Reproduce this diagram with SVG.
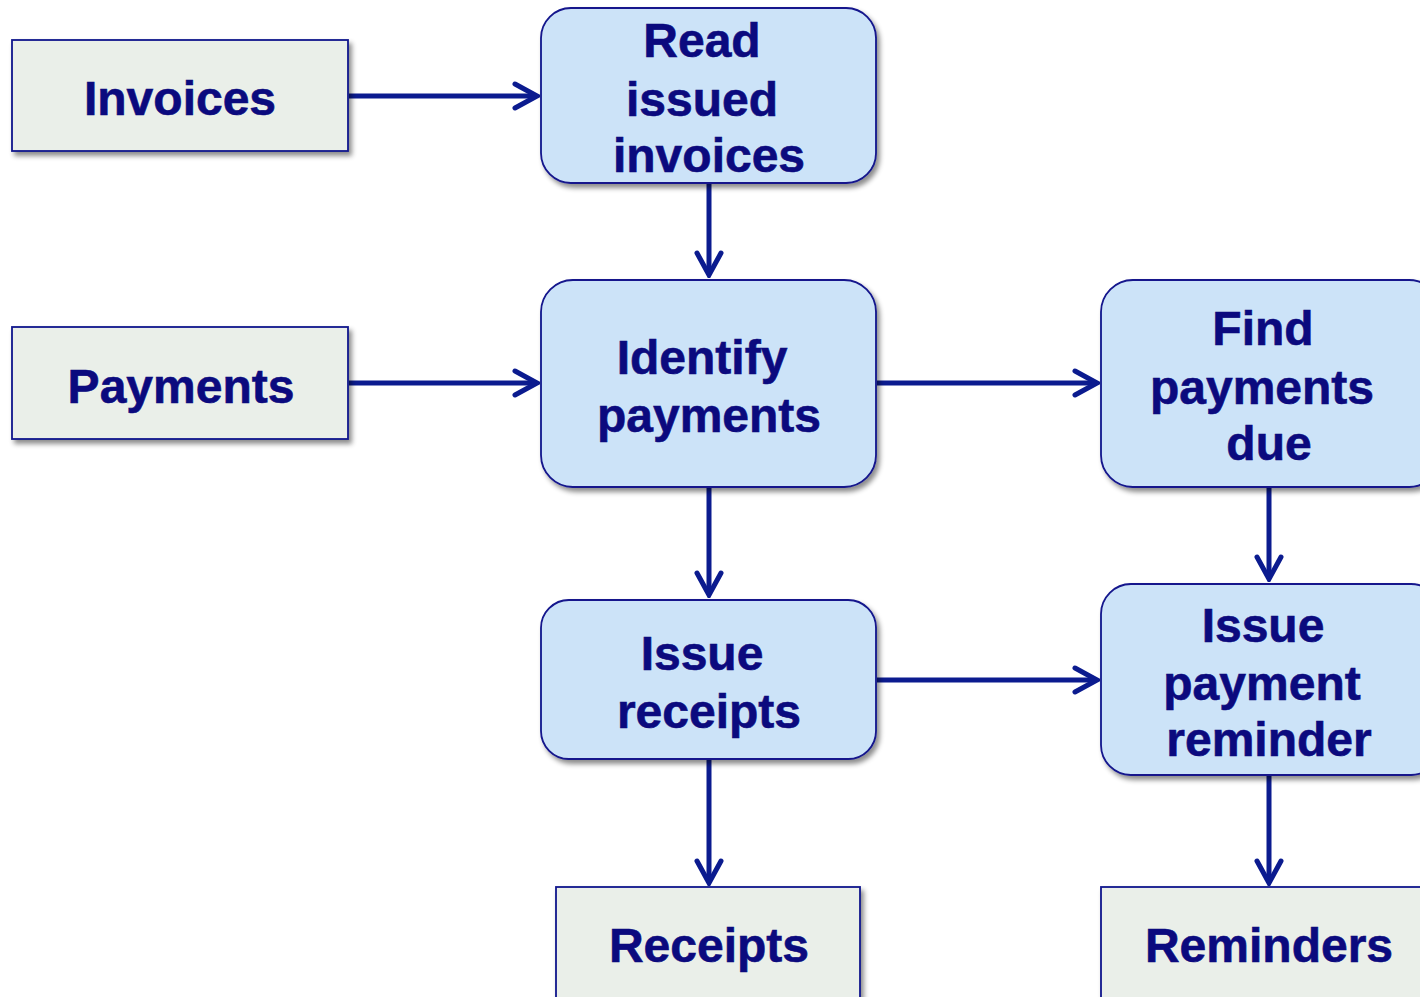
<svg xmlns="http://www.w3.org/2000/svg" width="1420" height="997" viewBox="0 0 1420 997">
<defs>
<filter id="sh" x="-10%" y="-10%" width="130%" height="130%">
<feDropShadow dx="3" dy="4" stdDeviation="2.5" flood-color="#000" flood-opacity="0.45"/>
</filter>
<marker id="ar" viewBox="0 0 28 30" refX="25" refY="15" markerWidth="28" markerHeight="30" markerUnits="userSpaceOnUse" orient="auto">
<path d="M3,3 L25,15 L3,27" fill="none" stroke="#0b1b8f" stroke-width="5" stroke-linecap="round" stroke-linejoin="miter"/>
</marker>
<style>
.store{fill:#eaefe9;stroke:#12148c;stroke-width:1.8}
.proc{fill:#cce3f8;stroke:#12148c;stroke-width:1.8}
.t{font-family:"Liberation Sans",Arial,sans-serif;font-weight:bold;font-size:48px;fill:#0b0a7e;text-anchor:middle;stroke:#0b0a7e;stroke-width:0.6}
.c{stroke:#0b1b8f;stroke-width:5;fill:none;marker-end:url(#ar)}
</style>
</defs>
<rect width="1420" height="997" fill="#fff"/>
<g id="connectors">
<line class="c" x1="349" y1="96" x2="537" y2="96"/>
<line class="c" x1="709" y1="184" x2="709" y2="275"/>
<line class="c" x1="349" y1="383" x2="537" y2="383"/>
<line class="c" x1="877" y1="383" x2="1097" y2="383"/>
<line class="c" x1="709" y1="488" x2="709" y2="595"/>
<line class="c" x1="1269" y1="488" x2="1269" y2="579"/>
<line class="c" x1="877" y1="680" x2="1097" y2="680"/>
<line class="c" x1="709" y1="760" x2="709" y2="883"/>
<line class="c" x1="1269" y1="776" x2="1269" y2="883"/>
</g>
<g id="invoices"><rect class="store" filter="url(#sh)" x="12" y="40" width="336" height="111"/><text class="t" x="180" y="115">Invoices</text></g>
<g id="payments"><rect class="store" filter="url(#sh)" x="12" y="327" width="336" height="112"/><text class="t" x="181" y="403">Payments</text></g>
<g id="read"><rect class="proc" filter="url(#sh)" x="541" y="8" width="335" height="175" rx="30"/><text class="t"><tspan x="702" y="57">Read</tspan><tspan x="702" y="116">issued</tspan><tspan x="709" y="172">invoices</tspan></text></g>
<g id="identify"><rect class="proc" filter="url(#sh)" x="541" y="280" width="335" height="207" rx="32"/><text class="t"><tspan x="702" y="374">Identify</tspan><tspan x="709" y="432">payments</tspan></text></g>
<g id="find"><rect class="proc" filter="url(#sh)" x="1101" y="280" width="340" height="207" rx="32"/><text class="t"><tspan x="1263" y="345">Find</tspan><tspan x="1262" y="404">payments</tspan><tspan x="1269" y="460">due</tspan></text></g>
<g id="issue-receipts"><rect class="proc" filter="url(#sh)" x="541" y="600" width="335" height="159" rx="28"/><text class="t"><tspan x="702" y="670">Issue</tspan><tspan x="709" y="728">receipts</tspan></text></g>
<g id="issue-reminder"><rect class="proc" filter="url(#sh)" x="1101" y="584" width="340" height="191" rx="30"/><text class="t"><tspan x="1263" y="642">Issue</tspan><tspan x="1262" y="700">payment</tspan><tspan x="1269" y="756">reminder</tspan></text></g>
<g id="receipts"><rect class="store" filter="url(#sh)" x="556" y="887" width="304" height="130"/><text class="t" x="709" y="962">Receipts</text></g>
<g id="reminders"><rect class="store" filter="url(#sh)" x="1101" y="887" width="340" height="130"/><text class="t" x="1269" y="962">Reminders</text></g>
</svg>
